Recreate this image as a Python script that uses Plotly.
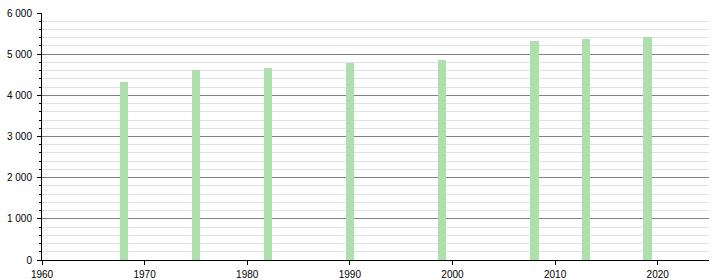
import plotly.graph_objects as go

years = [1968, 1975, 1982, 1990, 1999, 2008, 2013, 2019]
population = [4320, 4610, 4660, 4785, 4850, 5310, 5360, 5410]
y_ticks = [0, 1000, 2000, 3000, 4000, 5000, 6000]
x_ticks = [1960, 1970, 1980, 1990, 2000, 2010, 2020]

fig = go.Figure(go.Bar(
    x=years, y=population, width=0.8,
    marker=dict(color="#aee0ae", line=dict(width=0)),
))

fig.update_layout(
    width=720, height=280,
    margin=dict(l=42, r=11, t=13, b=20, autoexpand=False),
    paper_bgcolor="white", plot_bgcolor="white",
    separators=", ",
    showlegend=False,
    font=dict(family="Liberation Sans, Arial, sans-serif", size=10, color="black"),
    bargap=0,
)
fig.update_xaxes(
    range=[1960, 2025], tickvals=x_ticks, ticktext=[str(v) for v in x_ticks],
    showgrid=False, zeroline=False, automargin=False,
    showline=True, linecolor="black", linewidth=1,
    ticks="outside", ticklen=4, tickcolor="black", ticklabelstandoff=1,
)
fig.update_yaxes(
    range=[0, 6000], tickvals=y_ticks, tickformat=",d",
    showgrid=True, gridcolor="#808080", gridwidth=1,
    zeroline=False, automargin=False,
    showline=True, linecolor="black", linewidth=1,
    ticks="outside", ticklen=4, tickcolor="black", ticklabelstandoff=3,
    minor=dict(dtick=200, showgrid=True, gridcolor="#e0e0e0", gridwidth=1,
               ticks="outside", ticklen=2, tickcolor="black"),
)

fig.write_html("out.html")
